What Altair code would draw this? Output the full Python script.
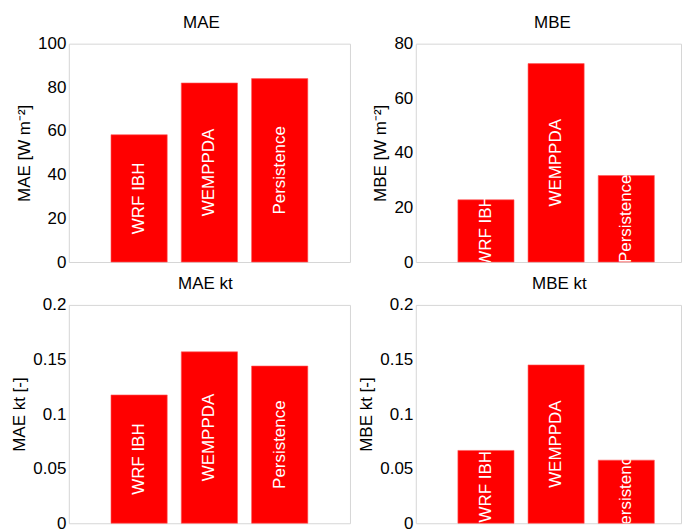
import altair as alt
import pandas as pd

categories = ["WRF IBH", "WEMPPDA", "Persistence"]
positions = [1, 2, 3]
mae = [58.3, 82.0, 84.0]
mbe = [22.8, 72.7, 31.7]
mae_kt = [0.1175, 0.157, 0.144]
mbe_kt = [0.0667, 0.145, 0.0578]

ticks_mae = [0, 20, 40, 60, 80, 100]
ticks_mbe = [0, 20, 40, 60, 80]
ticks_kt = [0, 0.05, 0.1, 0.15, 0.2]

FONT = "Liberation Sans"


def panel(values, title, ytitle, ymax, yticks, xmax, width, dx):
    df = pd.DataFrame({"cat": categories, "value": values, "pos": positions})
    base = alt.Chart(df).transform_calculate(
        x0="datum.pos - 0.4", x1="datum.pos + 0.4", mid="datum.value / 2"
    )
    xs = alt.Scale(domain=[0, xmax], nice=False, zero=False)
    ys = alt.Scale(domain=[0, ymax], nice=False)
    bars = base.mark_bar(color="#ff0000", stroke="#ff5a5a", strokeWidth=0.6).encode(
        x=alt.X("x0:Q", scale=xs, axis=None),
        x2="x1:Q",
        y=alt.Y(
            "value:Q",
            scale=ys,
            axis=alt.Axis(values=yticks, labelExpr="datum.value + ''", title=ytitle),
        ),
        y2=alt.datum(0),
    )
    labels = base.mark_text(
        angle=270, color="white", fontSize=17, font=FONT, clip=True,
        align="center", baseline="middle"
    ).encode(
        x=alt.X("pos:Q", scale=xs, axis=None),
        y=alt.Y("mid:Q", scale=ys),
        text="cat:N",
    )
    return alt.layer(bars, labels).properties(
        width=width, height=219, title=alt.TitleParams(title, dx=dx)
    )


p1 = panel(mae, "MAE", "MAE [W m⁻²]", 100, ticks_mae, 4, 282, -8)
p2 = panel(mbe, "MBE", "MBE [W m⁻²]", 80, ticks_mbe, 3.78, 266, 4)
p3 = panel(mae_kt, "MAE kt", "MAE kt [-]", 0.2, ticks_kt, 4, 282, -4)
p4 = panel(mbe_kt, "MBE kt", "MBE kt [-]", 0.2, ticks_kt, 3.78, 266, 11)

chart = (
    alt.concat(p1, p2, p3, p4, columns=2, spacing={"row": 43, "column": 66}, bounds="flush")
    .properties(padding={"left": 2, "top": 4, "right": 0, "bottom": 0})
    .configure_view(stroke="#d6d6d6", strokeWidth=1)
    .configure_axis(
        labelFont=FONT, labelFontSize=17, labelColor="black",
        titleFont=FONT, titleFontSize=17, titleFontWeight="normal", titleColor="black",
        grid=False, ticks=False, domain=False, labelPadding=3, titlePadding=4,
    )
    .configure_title(font=FONT, fontSize=17, fontWeight="normal", color="black", offset=3)
)

chart.save("out.html", embed_options={"renderer": "svg", "actions": False})
